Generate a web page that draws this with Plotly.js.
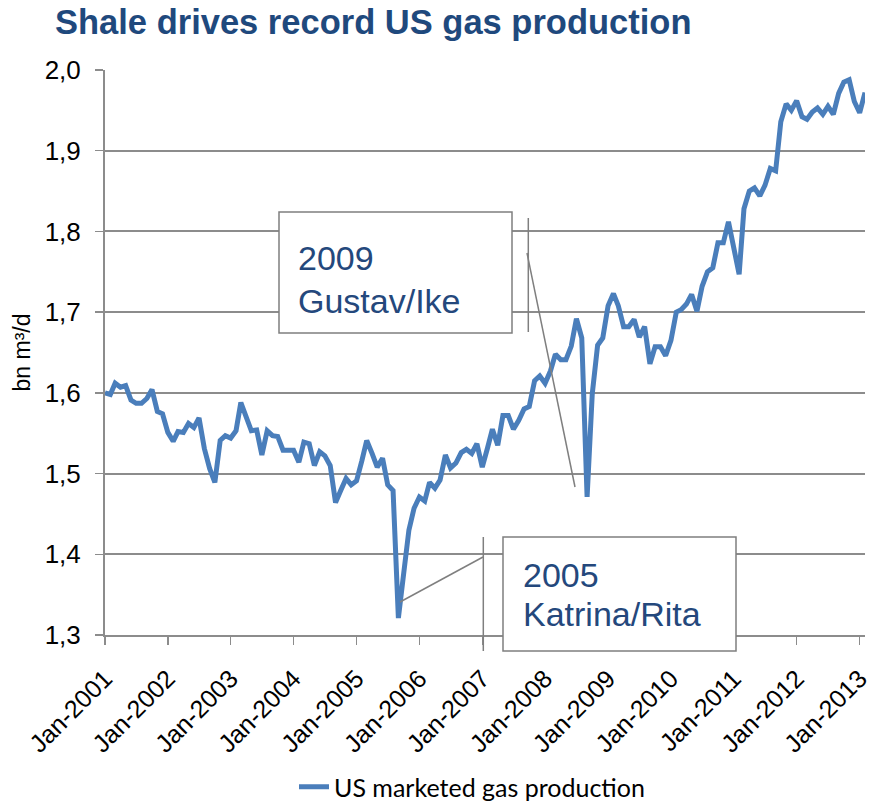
<!DOCTYPE html>
<html>
<head>
<meta charset="utf-8">
<script src="https://cdn.plot.ly/plotly-3.0.1.min.js"></script>
<style>html,body{margin:0;padding:0;background:#fff;}#chart{width:872px;height:802px;}</style>
</head>
<body>
<div id="chart"></div>
<script>
// Monthly US marketed gas production, bn m3/d, Jan-2001 .. Feb-2013
var startYear = 2001;
var seriesName = "US marketed gas production";
var values = [
  1.600,1.598,1.612,1.607,1.609,1.591,1.587,1.587,1.593,1.604,1.577,1.574,
  1.551,1.540,1.552,1.551,1.562,1.557,1.569,1.531,1.506,1.489,1.541,1.547,
  1.544,1.553,1.588,1.571,1.553,1.554,1.523,1.553,1.547,1.546,1.529,1.529,
  1.529,1.514,1.539,1.537,1.510,1.527,1.522,1.510,1.464,1.479,1.494,1.486,
  1.491,1.516,1.541,1.525,1.508,1.519,1.486,1.479,1.321,1.375,1.430,1.457,
  1.471,1.466,1.489,1.482,1.492,1.523,1.507,1.513,1.526,1.530,1.525,1.537,
  1.508,1.532,1.555,1.535,1.572,1.572,1.555,1.566,1.580,1.583,1.615,1.621,
  1.612,1.627,1.648,1.641,1.641,1.658,1.692,1.668,1.471,1.599,1.659,1.668,
  1.708,1.723,1.708,1.682,1.682,1.691,1.669,1.682,1.636,1.657,1.657,1.646,
  1.665,1.700,1.703,1.710,1.722,1.701,1.732,1.750,1.755,1.786,1.786,1.812,
  1.781,1.747,1.828,1.850,1.854,1.844,1.857,1.878,1.875,1.936,1.958,1.950,
  1.962,1.942,1.939,1.948,1.953,1.945,1.955,1.945,1.971,1.985,1.988,1.961,
  1.947,1.972
];
var tickYears = [2001,2002,2003,2004,2005,2006,2007,2008,2009,2010,2011,2012,2013];
var yTicks = [1.3,1.4,1.5,1.6,1.7,1.8,1.9,2.0];
var titleText = "Shale drives record US gas production";
var yTitle = "bn m³/d";
var note1 = ["2009", "Gustav/Ike"];
var note2 = ["2005", "Katrina/Rita"];

function pad(n){return n<10?"0"+n:""+n;}
var dates = values.map(function(v,i){
  var y = startYear + Math.floor(i/12), m = i%12 + 1;
  return y + "-" + pad(m) + "-01";
});
var tickVals = tickYears.map(function(y){return y+"-01-01";});
var tickText = tickYears.map(function(y){return "Jan-"+y;});
var lastDate = dates[dates.length-1];

var trace = {
  x: dates, y: values, type: "scatter", mode: "lines", name: seriesName,
  line: {color: "#4A7EBB", width: 5}, showlegend: true
};

var L = 105, W = 760, T = 70, H = 565;
function px(x){return (x-L)/W;}
function py(y){return (T+H-y)/H;}
var gray = "#8C8C8C";
var boxLine = {color: "#7F7F7F", width: 1.5};
var ARIAL = "Liberation Sans";

var shapes = [
  {type:"rect", xref:"paper", yref:"paper", x0:px(279), x1:px(512), y0:py(333), y1:py(212), line:boxLine, fillcolor:"#ffffff", layer:"above"},
  {type:"line", xref:"paper", yref:"paper", x0:px(528.3), x1:px(528.3), y0:py(332), y1:py(218), line:boxLine, layer:"above"},
  {type:"line", xref:"paper", yref:"paper", x0:px(527), x1:px(575), y0:py(253), y1:py(487), line:boxLine, layer:"above"},
  {type:"rect", xref:"paper", yref:"paper", x0:px(503), x1:px(736), y0:py(651), y1:py(537), line:boxLine, fillcolor:"#ffffff", layer:"above"},
  {type:"line", xref:"paper", yref:"paper", x0:px(483.3), x1:px(483.3), y0:py(651), y1:py(537), line:boxLine, layer:"above"},
  {type:"line", xref:"paper", yref:"paper", x0:px(400), x1:px(483), y0:py(602), y1:py(557), line:boxLine, layer:"above"}
];

var noteFont = {family: ARIAL, size: 34, color: "#24487C"};
function note(text, x, y){
  return {text:text, xref:"paper", yref:"paper", x:px(x), y:py(y), xanchor:"left", yanchor:"middle", showarrow:false, font:noteFont};
}
var annotations = [
  note(note1[0], 296, 258), note(note1[1], 296, 301),
  note(note2[0], 521, 575), note(note2[1], 521, 614)
];

var layout = {
  width: 872, height: 802,
  margin: {l: L, r: 872-L-W, t: T, b: 802-T-H, pad: 0, autoexpand: false},
  paper_bgcolor: "#ffffff", plot_bgcolor: "#ffffff",
  separators: ", ",
  font: {family: ARIAL, color: "#000000", size: 25},
  title: {text: "<b>"+titleText+"</b>", xref:"container", yref:"container", x: 55/872, xanchor:"left", y: 1-22/802, yanchor:"middle",
          font: {family: ARIAL, size: 34.5, color: "#1F497D"}},
  xaxis: {
    type: "date", range: [dates[0], lastDate], tickmode: "array", tickvals: tickVals, ticktext: tickText,
    tickangle: -45, ticks: "outside", ticklen: 8, tickwidth: 1.5, tickcolor: gray, ticklabelstandoff: 9,
    ticklabeloverflow: "allow",
    showgrid: false, showline: true, linecolor: gray, linewidth: 2, zeroline: false,
    tickfont: {family: ARIAL, size: 25, color: "#000"}
  },
  yaxis: {
    range: [1.3, 2.0], tickmode: "array", tickvals: yTicks, tickformat: ".1f",
    ticks: "outside", ticklen: 8, tickwidth: 1.5, tickcolor: gray, ticklabelstandoff: 9,
    showgrid: true, gridcolor: gray, gridwidth: 2, showline: true, linecolor: gray, linewidth: 2, zeroline: false,
    tickfont: {family: ARIAL, size: 26, color: "#000"},
    title: {text: yTitle, font: {family: ARIAL, size: 23, color: "#000"}, standoff: 8}
  },
  legend: {orientation: "h", x: px(472), xanchor: "center", y: py(787), yanchor: "middle",
           font: {family: "Lato", size: 25, color: "#000"}},
  shapes: shapes, annotations: annotations
};

Plotly.newPlot("chart", [trace], layout, {displayModeBar: false, staticPlot: true});
</script>
</body>
</html>
